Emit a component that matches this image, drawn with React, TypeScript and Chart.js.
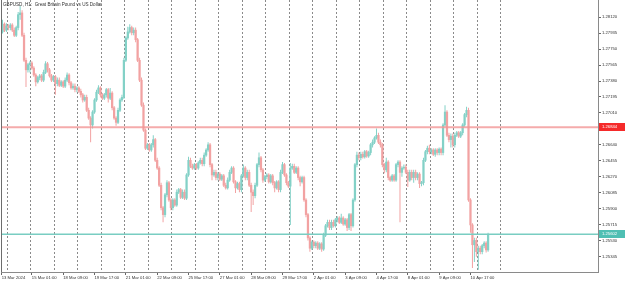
import React, { useEffect, useRef } from "react";
import { Chart, registerables } from "chart.js";

Chart.register(...registerables);

const chartTitle = "GBPUSD, H1:  Great Britain Pound vs US Dollar";

// 2-hour candles (every two H1 bars merged)
const opens = [
1.2795,1.2804,1.2797,1.2802,1.2800,1.2803,1.2797,1.2791,1.2800,1.2815,
1.2817,1.2791,1.2762,1.2751,1.2757,1.2759,1.2753,1.2745,1.2737,1.2742,
1.2744,1.2739,1.2748,1.2758,1.2751,1.2744,1.2739,1.2743,1.2735,1.2739,
1.2733,1.2737,1.2732,1.2739,1.2745,1.2736,1.2730,1.2732,1.2728,1.2730,
1.2726,1.2722,1.2716,1.2719,1.2704,1.2695,1.2687,1.2702,1.2716,1.2725,
1.2730,1.2722,1.2718,1.2722,1.2728,1.2718,1.2724,1.2707,1.2695,1.2690,
1.2704,1.2716,1.2719,1.2762,1.2788,1.2795,1.2800,1.2794,1.2797,1.2786,
1.2762,1.2739,1.2710,1.2681,1.2660,1.2664,1.2658,1.2664,1.2670,1.2646,
1.2637,1.2617,1.2591,1.2583,1.2606,1.2620,1.2600,1.2591,1.2600,1.2594,
1.2609,1.2612,1.2603,1.2609,1.2602,1.2629,1.2646,1.2639,1.2637,1.2641,
1.2637,1.2643,1.2646,1.2642,1.2652,1.2658,1.2664,1.2641,1.2629,1.2632,
1.2626,1.2630,1.2624,1.2628,1.2617,1.2614,1.2623,1.2632,1.2637,1.2621,
1.2614,1.2619,1.2612,1.2628,1.2637,1.2626,1.2632,1.2617,1.2609,1.2605,
1.2617,1.2641,1.2649,1.2635,1.2623,1.2627,1.2629,1.2621,1.2628,1.2620,
1.2614,1.2621,1.2612,1.2632,1.2641,1.2629,1.2620,1.2616,1.2637,1.2639,
1.2632,1.2637,1.2626,1.2621,1.2626,1.2600,1.2583,1.2556,1.2544,1.2551,
1.2547,1.2550,1.2544,1.2549,1.2543,1.2559,1.2570,1.2574,1.2568,1.2574,
1.2570,1.2577,1.2579,1.2574,1.2579,1.2572,1.2577,1.2568,1.2583,1.2570,
1.2600,1.2641,1.2652,1.2649,1.2653,1.2650,1.2656,1.2651,1.2655,1.2664,
1.2667,1.2672,1.2675,1.2667,1.2664,1.2641,1.2635,1.2644,1.2626,1.2623,
1.2628,1.2623,1.2641,1.2644,1.2632,1.2637,1.2638,1.2632,1.2623,1.2632,
1.2626,1.2632,1.2626,1.2630,1.2619,1.2620,1.2646,1.2656,1.2660,1.2656,
1.2658,1.2653,1.2658,1.2655,1.2659,1.2655,1.2687,1.2702,1.2675,1.2670,
1.2674,1.2664,1.2675,1.2678,1.2674,1.2678,1.2687,1.2699,1.2704,1.2600,
1.2571,1.2548,1.2553,1.2540,1.2544,1.2540,1.2547,1.2550,1.2542
];

const highs = [
1.2809,1.2806,1.2805,1.2804,1.2805,1.2805,1.2800,1.2802,1.2818,1.2825,
1.2820,1.2794,1.2765,1.2759,1.2761,1.2761,1.2755,1.2747,1.2744,1.2746,
1.2746,1.2751,1.2761,1.2760,1.2753,1.2746,1.2745,1.2745,1.2742,1.2742,
1.2739,1.2739,1.2742,1.2748,1.2747,1.2738,1.2735,1.2735,1.2732,1.2732,
1.2729,1.2724,1.2722,1.2722,1.2707,1.2697,1.2704,1.2718,1.2728,1.2733,
1.2732,1.2724,1.2724,1.2730,1.2730,1.2730,1.2726,1.2709,1.2697,1.2707,
1.2718,1.2722,1.2765,1.2790,1.2801,1.2804,1.2802,1.2800,1.2800,1.2788,
1.2765,1.2742,1.2713,1.2683,1.2666,1.2666,1.2666,1.2675,1.2672,1.2649,
1.2639,1.2620,1.2593,1.2608,1.2623,1.2622,1.2602,1.2602,1.2602,1.2612,
1.2614,1.2614,1.2612,1.2612,1.2631,1.2650,1.2649,1.2642,1.2643,1.2643,
1.2645,1.2649,1.2649,1.2655,1.2660,1.2667,1.2666,1.2643,1.2635,1.2635,
1.2632,1.2632,1.2630,1.2630,1.2620,1.2626,1.2635,1.2639,1.2639,1.2623,
1.2621,1.2621,1.2630,1.2641,1.2639,1.2635,1.2635,1.2620,1.2612,1.2620,
1.2643,1.2655,1.2651,1.2637,1.2629,1.2631,1.2631,1.2630,1.2630,1.2622,
1.2623,1.2623,1.2635,1.2644,1.2643,1.2631,1.2622,1.2643,1.2642,1.2642,
1.2639,1.2639,1.2628,1.2628,1.2628,1.2602,1.2585,1.2558,1.2553,1.2553,
1.2552,1.2552,1.2551,1.2551,1.2562,1.2572,1.2577,1.2577,1.2577,1.2577,
1.2579,1.2581,1.2581,1.2584,1.2581,1.2579,1.2579,1.2585,1.2585,1.2602,
1.2643,1.2656,1.2655,1.2656,1.2656,1.2658,1.2658,1.2657,1.2666,1.2670,
1.2674,1.2683,1.2678,1.2670,1.2666,1.2643,1.2649,1.2646,1.2628,1.2630,
1.2630,1.2643,1.2646,1.2646,1.2639,1.2641,1.2641,1.2635,1.2635,1.2635,
1.2635,1.2635,1.2632,1.2632,1.2622,1.2649,1.2658,1.2663,1.2664,1.2660,
1.2660,1.2660,1.2660,1.2661,1.2661,1.2689,1.2710,1.2704,1.2678,1.2677,
1.2677,1.2678,1.2680,1.2680,1.2680,1.2689,1.2701,1.2708,1.2707,1.2602,
1.2573,1.2556,1.2556,1.2547,1.2547,1.2549,1.2552,1.2552,1.2562
];

const lows = [
1.2793,1.2795,1.2795,1.2797,1.2797,1.2795,1.2789,1.2789,1.2797,1.2809,
1.2789,1.2760,1.2731,1.2748,1.2748,1.2751,1.2743,1.2732,1.2735,1.2739,
1.2737,1.2737,1.2746,1.2748,1.2742,1.2737,1.2737,1.2722,1.2732,1.2731,
1.2731,1.2730,1.2730,1.2737,1.2733,1.2728,1.2728,1.2725,1.2725,1.2724,
1.2719,1.2713,1.2714,1.2702,1.2693,1.2667,1.2683,1.2700,1.2714,1.2723,
1.2719,1.2716,1.2716,1.2719,1.2713,1.2716,1.2704,1.2693,1.2686,1.2688,
1.2702,1.2714,1.2717,1.2760,1.2786,1.2793,1.2791,1.2791,1.2783,1.2760,
1.2737,1.2708,1.2679,1.2658,1.2658,1.2656,1.2656,1.2661,1.2644,1.2635,
1.2615,1.2588,1.2574,1.2580,1.2603,1.2598,1.2588,1.2588,1.2592,1.2592,
1.2607,1.2601,1.2601,1.2600,1.2600,1.2627,1.2637,1.2635,1.2635,1.2635,
1.2635,1.2641,1.2639,1.2639,1.2650,1.2656,1.2638,1.2623,1.2627,1.2623,
1.2623,1.2622,1.2622,1.2615,1.2612,1.2612,1.2621,1.2630,1.2619,1.2608,
1.2612,1.2609,1.2609,1.2626,1.2623,1.2623,1.2615,1.2586,1.2594,1.2602,
1.2615,1.2638,1.2632,1.2620,1.2621,1.2624,1.2619,1.2619,1.2617,1.2609,
1.2612,1.2609,1.2609,1.2630,1.2627,1.2617,1.2614,1.2571,1.2635,1.2630,
1.2630,1.2623,1.2616,1.2619,1.2598,1.2580,1.2553,1.2540,1.2542,1.2544,
1.2544,1.2542,1.2542,1.2540,1.2541,1.2557,1.2568,1.2565,1.2565,1.2568,
1.2568,1.2574,1.2572,1.2572,1.2570,1.2570,1.2564,1.2565,1.2564,1.2568,
1.2598,1.2638,1.2646,1.2646,1.2648,1.2648,1.2649,1.2649,1.2652,1.2661,
1.2665,1.2670,1.2665,1.2661,1.2638,1.2631,1.2632,1.2623,1.2621,1.2621,
1.2621,1.2621,1.2638,1.2574,1.2627,1.2635,1.2630,1.2615,1.2621,1.2623,
1.2620,1.2623,1.2623,1.2614,1.2616,1.2617,1.2644,1.2653,1.2653,1.2653,
1.2651,1.2650,1.2652,1.2652,1.2652,1.2652,1.2685,1.2673,1.2667,1.2661,
1.2661,1.2661,1.2673,1.2672,1.2672,1.2675,1.2685,1.2696,1.2598,1.2562,
1.2521,1.2528,1.2534,1.2519,1.2537,1.2537,1.2544,1.2539,1.2540
];

const closes = [
1.2804,1.2797,1.2802,1.2800,1.2803,1.2797,1.2791,1.2800,1.2815,1.2817,
1.2791,1.2762,1.2751,1.2757,1.2759,1.2753,1.2745,1.2737,1.2742,1.2744,
1.2739,1.2748,1.2758,1.2751,1.2744,1.2739,1.2743,1.2735,1.2739,1.2733,
1.2737,1.2732,1.2739,1.2745,1.2736,1.2730,1.2732,1.2728,1.2730,1.2726,
1.2722,1.2716,1.2719,1.2704,1.2695,1.2687,1.2702,1.2716,1.2725,1.2730,
1.2722,1.2718,1.2722,1.2728,1.2718,1.2724,1.2707,1.2695,1.2690,1.2704,
1.2716,1.2719,1.2762,1.2788,1.2795,1.2800,1.2794,1.2797,1.2786,1.2762,
1.2739,1.2710,1.2681,1.2660,1.2664,1.2658,1.2664,1.2670,1.2646,1.2637,
1.2617,1.2591,1.2583,1.2606,1.2620,1.2600,1.2591,1.2600,1.2594,1.2609,
1.2612,1.2603,1.2609,1.2602,1.2629,1.2646,1.2639,1.2637,1.2641,1.2637,
1.2643,1.2646,1.2642,1.2652,1.2658,1.2664,1.2641,1.2629,1.2632,1.2626,
1.2630,1.2624,1.2628,1.2617,1.2614,1.2623,1.2632,1.2637,1.2621,1.2614,
1.2619,1.2612,1.2628,1.2637,1.2626,1.2632,1.2617,1.2609,1.2605,1.2617,
1.2641,1.2649,1.2635,1.2623,1.2627,1.2629,1.2621,1.2628,1.2620,1.2614,
1.2621,1.2612,1.2632,1.2641,1.2629,1.2620,1.2616,1.2637,1.2639,1.2632,
1.2637,1.2626,1.2621,1.2626,1.2600,1.2583,1.2556,1.2544,1.2551,1.2547,
1.2550,1.2544,1.2549,1.2543,1.2559,1.2570,1.2574,1.2568,1.2574,1.2570,
1.2577,1.2579,1.2574,1.2579,1.2572,1.2577,1.2568,1.2583,1.2570,1.2600,
1.2641,1.2652,1.2649,1.2653,1.2650,1.2656,1.2651,1.2655,1.2664,1.2667,
1.2672,1.2675,1.2667,1.2664,1.2641,1.2635,1.2644,1.2626,1.2623,1.2628,
1.2623,1.2641,1.2644,1.2632,1.2637,1.2638,1.2632,1.2623,1.2632,1.2626,
1.2632,1.2626,1.2630,1.2619,1.2620,1.2646,1.2656,1.2660,1.2656,1.2658,
1.2653,1.2658,1.2655,1.2659,1.2655,1.2687,1.2702,1.2675,1.2670,1.2674,
1.2664,1.2675,1.2678,1.2674,1.2678,1.2687,1.2699,1.2704,1.2600,1.2571,
1.2548,1.2553,1.2540,1.2544,1.2540,1.2547,1.2550,1.2542,1.2560
];

const askPrice = 1.26844;
const bidPrice = 1.25602;

const xTickIndex = [-0.4, 15, 31, 47, 63, 79, 95, 111, 127, 143, 159, 175, 191, 207, 223, 239];
const xTickLabels = [
  "13 Mar 2024", "15 Mar 01:00", "18 Mar 09:00", "19 Mar 17:00", "21 Mar 01:00",
  "22 Mar 09:00", "25 Mar 17:00", "27 Mar 01:00", "28 Mar 09:00", "29 Mar 17:00",
  "2 Apr 01:00", "3 Apr 09:00", "4 Apr 17:00", "8 Apr 01:00", "9 Apr 09:00", "10 Apr 17:00"
];
const yTickValues = [
  1.28120, 1.27935, 1.27750, 1.27565, 1.27380, 1.27195, 1.27010, 1.26825,
  1.26640, 1.26455, 1.26270, 1.26085, 1.25900, 1.25715, 1.25530, 1.25345
];

const X_MIN = -0.766;
const X_MAX = 304.13;
const Y_MIN = 1.25164;
const Y_MAX = 1.2832;
const GRID_START = 2.45;
const GRID_STEP = 12;
const GRID_COUNT = 22;

const UP = "#83D1C7";
const DOWN = "#F2A2A2";
const FONT = "'Liberation Sans', Arial, sans-serif";

export default function App() {
  const ref = useRef<HTMLCanvasElement>(null);

  useEffect(() => {
    const canvas = ref.current;
    if (!canvas) return;

    const colors = closes.map((c, i) => (c >= opens[i] ? UP : DOWN));
    const wickData = closes.map((_, i) => ({ x: i, y: [lows[i], highs[i]] }));
    const bodyData = closes.map((c, i) => ({ x: i, y: [opens[i], c] }));
    const gridVals: number[] = [];
    for (let k = 0; k < GRID_COUNT; k++) gridVals.push(GRID_START + GRID_STEP * k);

    const overlay = {
      id: "mtOverlay",
      afterDraw(chart: any) {
        const { ctx, chartArea } = chart;
        const ys = chart.scales.y;
        ctx.save();
        ctx.strokeStyle = "#6d6d6d";
        ctx.lineWidth = 1;
        ctx.beginPath();
        ctx.moveTo(chartArea.left + 0.5, chartArea.top);
        ctx.lineTo(chartArea.left + 0.5, chartArea.bottom);
        ctx.stroke();
        ctx.fillStyle = "#333";
        ctx.font = `4.6px ${FONT}`;
        ctx.textBaseline = "middle";
        ctx.textAlign = "left";
        ctx.fillText(chartTitle, 3, 4.5);
        const drawLabel = (price: number, bg: string) => {
          const y = ys.getPixelForValue(price);
          ctx.fillStyle = bg;
          ctx.fillRect(chartArea.right + 1, Math.round(y) - 4, chart.width - chartArea.right - 1, 8);
          ctx.fillStyle = "#fff";
          ctx.font = `4.2px ${FONT}`;
          ctx.fillText(price.toFixed(5), chartArea.right + 4, y);
        };
        drawLabel(askPrice, "#F52A2A");
        drawLabel(bidPrice, "#4FBFB3");
        ctx.restore();
      },
    };

    const chart = new Chart(canvas, {
      type: "bar",
      data: {
        datasets: [
          {
            type: "line",
            data: [{ x: X_MIN, y: askPrice }, { x: X_MAX, y: askPrice }],
            borderColor: "rgba(242,150,150,0.8)",
            borderWidth: 2,
            pointRadius: 0,
            order: 0,
          } as any,
          {
            type: "line",
            data: [{ x: X_MIN, y: bidPrice }, { x: X_MAX, y: bidPrice }],
            borderColor: "#79CDC2",
            borderWidth: 1.3,
            pointRadius: 0,
            order: 0,
          } as any,
          {
            type: "bar",
            data: bodyData as any,
            backgroundColor: colors,
            barThickness: 1.6,
            borderWidth: 0,
            grouped: false,
            order: 1,
          } as any,
          {
            type: "bar",
            data: wickData as any,
            backgroundColor: colors,
            barThickness: 1,
            borderWidth: 0,
            inflateAmount: 0,
            grouped: false,
            order: 2,
          } as any,
        ],
      },
      options: {
        animation: false,
        responsive: false,
        devicePixelRatio: 1,
        layout: { padding: { left: 1, top: 0, right: 0, bottom: 0 }, autoPadding: false } as any,
        plugins: { legend: { display: false }, tooltip: { enabled: false } },
        scales: {
          x: {
            type: "linear",
            position: "bottom",
            offset: false,
            min: X_MIN,
            max: X_MAX,
            afterBuildTicks: (s: any) => {
              s.ticks = xTickIndex.map((v) => ({ value: v }));
            },
            afterFit: (s: any) => {
              s.height = 11;
              s.paddingLeft = 0;
              s.paddingRight = 0;
            },
            ticks: {
              autoSkip: false,
              maxRotation: 0,
              minRotation: 0,
              align: "start",
              padding: 0,
              color: "#333",
              font: { size: 4.2, family: FONT },
              callback: (_v: any, i: number) => xTickLabels[i],
            },
            grid: { offset: false, drawOnChartArea: false, drawTicks: true, tickLength: 3, color: "#666" },
            border: { display: true, color: "#8a8a8a" },
          } as any,
          x2: {
            type: "linear",
            position: "top",
            offset: false,
            min: X_MIN,
            max: X_MAX,
            afterBuildTicks: (s: any) => {
              s.ticks = gridVals.map((v) => ({ value: v }));
            },
            afterFit: (s: any) => {
              s.height = 0;
              s.paddingLeft = 0;
              s.paddingRight = 0;
            },
            ticks: { display: false },
            grid: { offset: false, drawOnChartArea: true, drawTicks: false, color: "#8a8a8a", lineWidth: 1 },
            border: { display: false, dash: [2, 2] },
          } as any,
          y: {
            type: "linear",
            position: "right",
            min: Y_MIN,
            max: Y_MAX,
            afterBuildTicks: (s: any) => {
              s.ticks = yTickValues.map((v) => ({ value: v }));
            },
            afterFit: (s: any) => {
              s.width = 27;
              s.paddingTop = 0;
              s.paddingBottom = 0;
            },
            ticks: {
              autoSkip: false,
              padding: 1,
              color: "#333",
              font: { size: 4.2, family: FONT },
              callback: (v: any) => Number(v).toFixed(5),
            },
            grid: { drawOnChartArea: false, drawTicks: true, tickLength: 3, color: "#666" },
            border: { display: true, color: "#8a8a8a" },
          } as any,
        },
      },
      plugins: [overlay],
    } as any);

    return () => chart.destroy();
  }, []);

  return (
    <div style={{ position: "fixed", left: 0, top: 0, width: 625, height: 283, background: "#fff" }}>
      <canvas ref={ref} width={625} height={283} style={{ display: "block", width: 625, height: 283 }} />
    </div>
  );
}
